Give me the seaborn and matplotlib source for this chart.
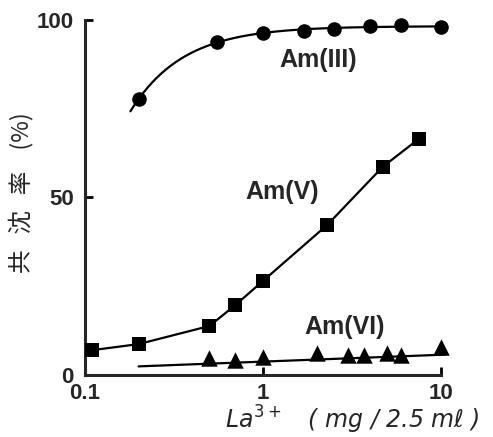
import numpy as np
import pandas as pd
import matplotlib
matplotlib.use("Agg")
import matplotlib.pyplot as plt
import seaborn as sns

# La3+ amount (mg / 2.5 ml) and coprecipitation yield (%)
am3_x = [0.2, 0.55, 1.0, 1.7, 2.5, 4.0, 6.0, 10.0]
am3_y = [77.7, 93.8, 96.3, 96.9, 97.5, 98.3, 98.6, 98.0]

am5_x = [0.11, 0.2, 0.5, 0.7, 1.0, 2.3, 4.7, 7.5]
am5_y = [7.0, 8.7, 13.8, 19.7, 26.5, 42.3, 58.6, 66.5]

am6_x = [0.5, 0.7, 1.0, 2.0, 3.0, 3.7, 5.0, 6.0, 10.0]
am6_y = [4.8, 4.2, 5.1, 6.2, 5.6, 5.6, 6.2, 5.6, 7.9]

x_ticks = [0.1, 1, 10]
x_tick_labels = ["0.1", "1", "10"]
y_ticks = [0, 50, 100]
y_tick_labels = ["0", "50", "100"]

sns.set_style("ticks")
plt.rcParams["font.family"] = ["Liberation Sans", "DejaVu Sans"]

fig = plt.figure(figsize=(4.93, 4.37), dpi=100)
ax = fig.add_axes([0.1724, 0.1419, 0.744, 0.8124])

ink = "black"

# Am(III): saturating curve in log10(x), A - B*exp(-k*(log x + 1))
t3 = np.log10(am3_x) + 1
best = None
for k in np.linspace(0.3, 12, 600):
    M = np.column_stack([np.ones_like(t3), -np.exp(-k * t3)])
    coef, res, *_ = np.linalg.lstsq(M, np.array(am3_y), rcond=None)
    err = np.sum((M @ coef - np.array(am3_y)) ** 2)
    if best is None or err < best[0]:
        best = (err, k, coef)
_, k3, (A3, B3) = best
xs3 = np.logspace(np.log10(0.18), np.log10(10.8), 200)
ys3 = A3 - B3 * np.exp(-k3 * (np.log10(xs3) + 1))
curve3 = pd.DataFrame({"x": xs3, "y": ys3})

# Am(VI): straight trend in log10(x)
p6 = np.polyfit(np.log10(am6_x), am6_y, 1)
xs6 = np.logspace(np.log10(0.2), np.log10(10.6), 50)
curve6 = pd.DataFrame({"x": xs6, "y": np.polyval(p6, np.log10(xs6)) - 1.2})

lw = 1.6
sns.lineplot(data=curve3, x="x", y="y", ax=ax, color=ink, lw=lw, sort=False)
sns.lineplot(data=curve6, x="x", y="y", ax=ax, color=ink, lw=lw, sort=False)
sns.lineplot(x=am5_x, y=am5_y, ax=ax, color=ink, lw=lw, sort=False)

for line in ax.lines:
    line.set_clip_on(False)

sns.scatterplot(x=am3_x, y=am3_y, ax=ax, marker="o", s=110, color=ink,
                edgecolor=ink, linewidth=0, zorder=5, clip_on=False)
sns.scatterplot(x=am5_x, y=am5_y, ax=ax, marker="s", s=95, color=ink,
                edgecolor=ink, linewidth=0, zorder=5, clip_on=False)
sns.scatterplot(x=am6_x, y=am6_y, ax=ax, marker="^", s=140, color=ink,
                edgecolor=ink, linewidth=0, zorder=5, clip_on=False)

ax.set_xscale("log")
ax.set_xlim(0.1, 11.5)
ax.set_ylim(0, 100)

ax.set_xticks(x_ticks)
ax.set_xticklabels(x_tick_labels)
ax.set_yticks(y_ticks)
ax.set_yticklabels(y_tick_labels)
ax.xaxis.set_minor_locator(matplotlib.ticker.NullLocator())
ax.tick_params(axis="both", direction="in", length=6, width=2, color=ink,
               labelsize=16)
ax.tick_params(axis="x", pad=6)
ax.tick_params(axis="y", pad=8)
for lab in ax.get_xticklabels() + ax.get_yticklabels():
    lab.set_fontweight("bold")

sns.despine(ax=ax)
ax.spines["left"].set_linewidth(2.2)
ax.spines["bottom"].set_linewidth(2.2)
ax.spines["bottom"].set_bounds(0.1, 10)
ax.set_xlabel("")
ax.set_ylabel("")

# Series labels
lbl = dict(fontsize=18, fontweight="bold", ha="center", va="center")
ax.text(2.04, 88.7, "Am(III)", **lbl)
ax.text(1.28, 51.5, "Am(V)", **lbl)
ax.text(2.89, 13.5, "Am(VI)", **lbl)

# Axis titles
fig.text(0.042, 0.56, "共   沈   率    (%)", rotation=90, ha="center", va="center",
         fontsize=17, family=["Noto Sans CJK JP", "DejaVu Sans"])
fig.text(0.715, 0.038, r"$La^{3+}$   ( mg / 2.5 m$\ell$ )", ha="center", va="center",
         fontsize=17, fontstyle="italic", family=["DejaVu Sans"])

fig.savefig("out.png", dpi=100)
